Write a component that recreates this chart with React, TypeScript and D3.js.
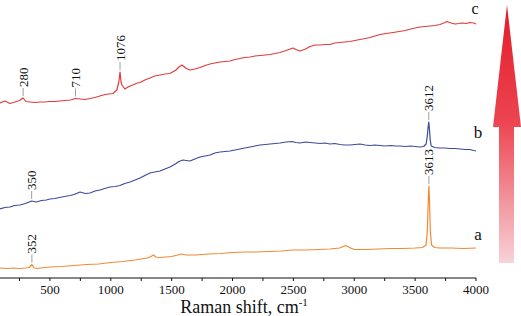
import React from "react";
import * as d3 from "d3";

// Raman shift (cm-1) and intensity (arb. units) for each spectrum
const shiftsA = [90,150,200,250,300,330,352,370,400,450,500,600,700,800,900,1000,1100,1200,1250,1300,1330,1350,1370,1400,1450,1500,1550,1580,1620,1700,1800,1900,2000,2100,2200,2300,2400,2500,2600,2700,2800,2880,2930,2970,3000,3100,3200,3300,3400,3500,3560,3590,3600,3608,3613,3618,3625,3635,3660,3700,3800,3900,4000];
const intensA = [10,9.5,10,9.5,10,10.5,13.5,10,9.5,10.5,11,11.5,12.5,13.5,14,15.5,16.5,18,19,20,21.5,23,21,20.5,21,21.5,23,24,23,23,24,24.5,25.5,26,26,26.5,27,28,28,28.5,29,30,32.5,30,28.5,28.5,29,29.5,29.5,30,30.5,33,46,78,92,78,46,33,30.5,30,30,29.5,30];

const shiftsB = [90,130,172,210,254,300,350,390,430,470,500,540,580,620,665,700,747,790,829,870,911,950,993,1035,1075,1115,1158,1200,1240,1280,1322,1360,1404,1445,1486,1530,1560,1593,1620,1651,1690,1733,1775,1815,1855,1897,1940,1979,2020,2061,2100,2144,2185,2226,2270,2308,2350,2390,2440,2489,2520,2554,2600,2637,2680,2719,2760,2800,2840,2883,2920,2965,3005,3047,3090,3130,3170,3212,3250,3300,3340,3376,3420,3460,3500,3540,3570,3590,3600,3606,3612,3618,3624,3632,3660,3700,3740,3787,3830,3869,3910,3951,3980,4000];
const intensB = [69,70.5,71,72.5,73,74.5,77,76,77.5,78,79,79.5,80.5,81.5,82.5,83.5,86,84.5,85,87,88,89.5,91,91.5,92.5,94.5,96,98,100,102.5,105,106,107,109,111,114,116.5,118,117.5,117,119,121,122,123,125,126,126.5,127,128,129,130,131,132,133,133.5,134,134.5,135,136,136.5,135.5,135,136,135.5,135,134.5,135,134,134.5,133.5,133,133,133.5,134,133,132.5,133,132.5,132,132.5,132,132,131.5,132,131.5,131,131.5,134,142,150,156,148,138,132,130.5,130,130,129.5,129.5,129,128.5,128.5,127.5,127];

const shiftsC = [90,131,172,213,250,280,303,340,377,420,459,500,541,580,624,670,710,750,788,830,870,910,952,985,1018,1050,1066,1076,1084,1092,1116,1135,1157,1180,1199,1220,1240,1280,1322,1360,1404,1445,1486,1535,1560,1585,1620,1651,1690,1733,1775,1815,1855,1897,1940,1979,2020,2061,2100,2144,2185,2226,2270,2308,2350,2390,2440,2497,2530,2554,2600,2637,2680,2719,2760,2801,2840,2883,2920,2965,3005,3047,3090,3130,3170,3212,3260,3319,3370,3417,3480,3540,3580,3623,3665,3705,3735,3762,3795,3828,3860,3885,3920,3951,3980,4000];
const intensC = [175,177,174.5,176,177.5,180,176.5,176,175.5,176,176,176.5,176.5,177,177.5,178,179.5,179,178.5,179.5,180.5,182,183.5,184,184.5,188,196,206,196,193,189,190.5,192,193,194,195,195.5,198,200,202,203,204,204.5,208,211,213,209.5,208,209,210.5,212.5,214,215,216,216.5,217,218.5,219.5,220.5,221,222,222.5,223,223.5,224.5,225.5,227.5,230,228,227,229,231.5,233,233,233.5,233.5,235,235.5,236,236.5,237.5,238.5,239.5,240.5,242,243.5,244.5,245.5,246.5,247.5,249.5,251,251.5,252,252.5,253.5,255,256.5,255,254,254.5,255,254.5,255.5,255,254];

const tickValues = [250,500,750,1000,1250,1500,1750,2000,2250,2500,2750,3000,3250,3500,3750,4000];
const tickLabels = ["500","1000","1500","2000","2500","3000","3500","4000"];

const seriesNames = ["a", "b", "c"];
const seriesColors = ["#f08a32", "#3c4a9c", "#e33a3c"];

const peakLabels = ["352", "350", "280", "710", "1076", "3612", "3613"];
const peakShifts = [352, 350, 280, 710, 1076, 3612, 3613];
const peakSeries = [0, 1, 2, 2, 2, 1, 0];

const FONT = "Liberation Serif";

export default function App() {
  const W = 521, H = 316;
  const x = d3.scaleLinear().domain([90, 4000]).range([0, 476]);
  const y = d3.scaleLinear().domain([0, 280]).range([278, -2]);
  const xs = [shiftsA, shiftsB, shiftsC];
  const ys = [intensA, intensB, intensC];
  const line = d3.line<[number, number]>().x(d => x(d[0])).y(d => y(d[1]));
  const valueAt = (si: number, s: number) => {
    const arr = xs[si];
    const i = arr.indexOf(s);
    if (i >= 0) return ys[si][i];
    const j = d3.bisectLeft(arr, s);
    return ys[si][Math.min(j, arr.length - 1)];
  };
  const tstyle = { fontFamily: FONT };
  const endLabelY = [240, 138, 14];
  const endLabelX = [478, 478, 475];
  const endLabelSize = [17, 17, 16];

  return (
    <svg width={W} height={H} style={{ position: "absolute", left: 0, top: 0, background: "#fff" }}>
      <defs>
        <linearGradient id="arrowGrad" x1="0" y1="0" x2="0" y2="1">
          <stop offset="0%" stopColor="#e31b2b" />
          <stop offset="45%" stopColor="#ec4450" />
          <stop offset="100%" stopColor="#f7d3d7" />
        </linearGradient>
      </defs>
      <polygon
        points="507,5 521,127 514,127 514,263 499,263 499,127 493,127"
        fill="url(#arrowGrad)"
      />
      {xs.map((arr, si) => (
        <path
          key={si}
          d={line(arr.map((s, i) => [s, ys[si][i]] as [number, number])) || ""}
          fill="none"
          stroke={seriesColors[si]}
          strokeWidth={1.2}
          strokeLinejoin="round"
        />
      ))}
      {seriesNames.map((n, si) => (
        <text key={n} x={endLabelX[si]} y={endLabelY[si]} fontSize={endLabelSize[si]} textAnchor="middle" fill="#111" style={tstyle}>
          {n}
        </text>
      ))}
      {peakLabels.map((lab, k) => {
        const px = x(peakShifts[k]);
        const py = y(valueAt(peakSeries[k], peakShifts[k]));
        const lb = py - 2;
        const lt = py - 10;
        return (
          <g key={lab}>
            <line x1={px} x2={px} y1={lb} y2={lt} stroke="#888" strokeWidth={0.8} />
            <text
              transform={`translate(${px},${lt - 1}) rotate(-90)`}
              fontSize={13}
              dominantBaseline="central"
              textAnchor="start"
              fill="#111"
              style={tstyle}
            >
              {lab}
            </text>
          </g>
        );
      })}
      <line x1={0} x2={476} y1={278} y2={278} stroke="#111" strokeWidth={1.2} />
      {tickValues.map(t => (
        <line key={t} x1={x(t)} x2={x(t)} y1={278} y2={281} stroke="#111" strokeWidth={1} />
      ))}
      {tickLabels.map(t => (
        <text key={t} x={x(+t)} y={294} fontSize={13} textAnchor="middle" fill="#111" style={tstyle}>
          {t}
        </text>
      ))}
      <text x={244} y={313} fontSize={18} textAnchor="middle" fill="#111" style={tstyle}>
        Raman shift, cm<tspan dy={-7} fontSize={11}>-1</tspan>
      </text>
    </svg>
  );
}
